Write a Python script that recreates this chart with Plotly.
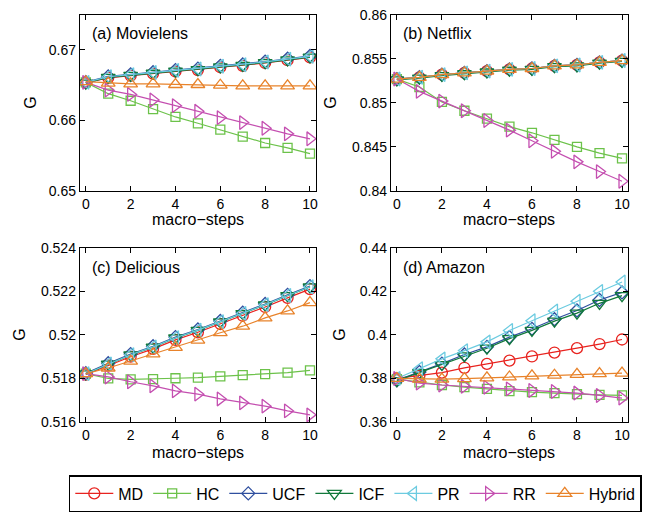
import plotly.graph_objects as go

steps = list(range(11))
methods = ["MD", "HC", "UCF", "ICF", "PR", "RR", "Hybrid"]

# (a) Movielens
ml_MD = [0.66535, 0.66605, 0.66635, 0.66665, 0.66695, 0.66715, 0.66755, 0.66775, 0.66815, 0.66855, 0.66895]
ml_HC = [0.6654, 0.6638, 0.6628, 0.6616, 0.6605, 0.6596, 0.6587, 0.6577, 0.6568, 0.6561, 0.6553]
ml_UCF = [0.66545, 0.66625, 0.66655, 0.66685, 0.66715, 0.66735, 0.66775, 0.66795, 0.66835, 0.66875, 0.66915]
ml_ICF = [0.6653, 0.6661, 0.6664, 0.6667, 0.6670, 0.6672, 0.6676, 0.6678, 0.6682, 0.6686, 0.6690]
ml_PR = [0.6654, 0.6662, 0.6665, 0.6668, 0.6671, 0.6673, 0.6677, 0.6679, 0.6683, 0.6687, 0.6691]
ml_RR = [0.6654, 0.6643, 0.6637, 0.6629, 0.6621, 0.6613, 0.6604, 0.6597, 0.6589, 0.6581, 0.6574]
ml_Hybrid = [0.6655, 0.6653, 0.6652, 0.6652, 0.6651, 0.6651, 0.6650, 0.6649, 0.6649, 0.6649, 0.6649]

# (b) Netflix
nf_MD = [0.8527, 0.8529, 0.8532, 0.8534, 0.8536, 0.8538, 0.8539, 0.8542, 0.8543, 0.8546, 0.8548]
nf_HC = [0.8527, 0.8518, 0.8501, 0.8491, 0.8482, 0.8473, 0.8466, 0.8458, 0.8450, 0.8443, 0.8437]
nf_UCF = [0.8527, 0.8529, 0.8532, 0.8534, 0.8536, 0.8538, 0.8539, 0.8542, 0.8543, 0.8546, 0.8548]
nf_ICF = [0.8526, 0.8528, 0.8531, 0.8533, 0.8535, 0.8537, 0.8538, 0.8541, 0.8542, 0.8545, 0.8547]
nf_PR = [0.8527, 0.8529, 0.8532, 0.8534, 0.8536, 0.8538, 0.8539, 0.8542, 0.8543, 0.8546, 0.8548]
nf_RR = [0.8527, 0.8513, 0.8502, 0.8491, 0.8480, 0.8469, 0.8457, 0.8445, 0.8433, 0.8422, 0.8411]
nf_Hybrid = [0.8527, 0.8529, 0.8532, 0.8534, 0.8536, 0.8538, 0.8539, 0.8542, 0.8543, 0.8546, 0.8548]

# (c) Delicious
de_MD = [0.51818, 0.51860, 0.51900, 0.51936, 0.51977, 0.52012, 0.52050, 0.52088, 0.52128, 0.52170, 0.52210]
de_HC = [0.51822, 0.51800, 0.51796, 0.51797, 0.51801, 0.51804, 0.51810, 0.51815, 0.51820, 0.51827, 0.51837]
de_UCF = [0.51824, 0.51870, 0.51912, 0.51948, 0.51990, 0.52025, 0.52064, 0.52102, 0.52142, 0.52184, 0.52224]
de_ICF = [0.51821, 0.51866, 0.51908, 0.51944, 0.51986, 0.52021, 0.52060, 0.52098, 0.52138, 0.52180, 0.52220]
de_PR = [0.51822, 0.51867, 0.51909, 0.51945, 0.51987, 0.52022, 0.52061, 0.52099, 0.52139, 0.52181, 0.52221]
de_RR = [0.51822, 0.51807, 0.51785, 0.51766, 0.51743, 0.51728, 0.51706, 0.51688, 0.51673, 0.51651, 0.51633]
de_Hybrid = [0.51822, 0.51848, 0.51880, 0.51913, 0.51943, 0.51976, 0.52010, 0.52040, 0.52078, 0.52110, 0.52148]

# (d) Amazon
am_MD = [0.3800, 0.3812, 0.3827, 0.3849, 0.3867, 0.3882, 0.3901, 0.3919, 0.3939, 0.3958, 0.3979]
am_HC = [0.3797, 0.3782, 0.3770, 0.3760, 0.3752, 0.3742, 0.3737, 0.3733, 0.3728, 0.3725, 0.3722]
am_UCF = [0.3792, 0.3830, 0.3868, 0.3910, 0.3945, 0.3990, 0.4028, 0.4072, 0.4112, 0.4160, 0.4195]
am_ICF = [0.3790, 0.3827, 0.3864, 0.3904, 0.3939, 0.3983, 0.4021, 0.4063, 0.4100, 0.4145, 0.4180]
am_PR = [0.3800, 0.3845, 0.3890, 0.3928, 0.3968, 0.4020, 0.4065, 0.4110, 0.4155, 0.4200, 0.4243]
am_RR = [0.3800, 0.3779, 0.3770, 0.3764, 0.3760, 0.3752, 0.3745, 0.3740, 0.3733, 0.3722, 0.3710]
am_Hybrid = [0.3800, 0.3797, 0.3797, 0.3799, 0.3803, 0.3807, 0.3812, 0.3815, 0.3819, 0.3822, 0.3825]

titles = ["(a) Movielens", "(b) Netflix", "(c) Delicious", "(d) Amazon"]
panels = [
    [ml_MD, ml_HC, ml_UCF, ml_ICF, ml_PR, ml_RR, ml_Hybrid],
    [nf_MD, nf_HC, nf_UCF, nf_ICF, nf_PR, nf_RR, nf_Hybrid],
    [de_MD, de_HC, de_UCF, de_ICF, de_PR, de_RR, de_Hybrid],
    [am_MD, am_HC, am_UCF, am_ICF, am_PR, am_RR, am_Hybrid],
]
y_ticks = [
    [0.65, 0.66, 0.67],
    [0.84, 0.845, 0.85, 0.855, 0.86],
    [0.516, 0.518, 0.52, 0.522, 0.524],
    [0.36, 0.38, 0.4, 0.42, 0.44],
]
y_ticktext = [
    ["0.65", "0.66", "0.67"],
    ["0.84", "0.845", "0.85", "0.855", "0.86"],
    ["0.516", "0.518", "0.52", "0.522", "0.524"],
    ["0.36", "0.38", "0.4", "0.42", "0.44"],
]
y_ranges = [[0.65, 0.675], [0.84, 0.86], [0.516, 0.524], [0.36, 0.44]]
x_ticks = [0, 2, 4, 6, 8, 10]

colors = {
    "MD": "#e8231f",
    "HC": "#6cc24a",
    "UCF": "#2f4f9f",
    "ICF": "#11793b",
    "PR": "#6ccbe0",
    "RR": "#c44fb0",
    "Hybrid": "#e8832b",
}
symbols = {
    "MD": "circle-open",
    "HC": "square-open",
    "UCF": "diamond-open",
    "ICF": "triangle-down-open",
    "PR": "triangle-left-open",
    "RR": "triangle-right-open",
    "Hybrid": "triangle-up-open",
}
sizes = {"MD": 11, "HC": 9, "UCF": 10, "ICF": 12, "PR": 12, "RR": 12, "Hybrid": 12}

W, H = 658, 512
# pixel boxes: (left, right, top, bottom)
boxes = [(80, 317, 7, 190), (392, 630, 7, 190), (80, 317, 249, 430), (392, 630, 249, 430)]
ylab_offset = [49, 60, 60, 51]
xlab_offset = [30, 30, 32, 32]

FONT = "Liberation Sans, Arial, Helvetica, sans-serif"
fig = go.Figure()
layout = dict(
    width=W, height=H,
    margin=dict(l=0, r=0, t=0, b=0),
    paper_bgcolor="white", plot_bgcolor="white",
    font=dict(family=FONT, size=14, color="black"),
    showlegend=True,
)
annotations = []
for i, (series, box) in enumerate(zip(panels, boxes)):
    n = "" if i == 0 else str(i + 1)
    xa, ya = "x" + n, "y" + n
    for m, vals in zip(methods, series):
        fig.add_trace(go.Scatter(
            x=steps, y=vals, mode="lines+markers", name=m,
            xaxis=xa, yaxis=ya, showlegend=(i == 0),
            line=dict(color=colors[m], width=1.2),
            marker=dict(symbol=symbols[m], size=sizes[m], color=colors[m],
                        line=dict(color=colors[m], width=1.3)),
        ))
    l, r, t, b = box
    common = dict(showline=True, linecolor="black", linewidth=1, mirror="ticks",
                  ticks="inside", ticklen=5, tickcolor="black", showgrid=False,
                  zeroline=False, tickfont=dict(size=14, family=FONT))
    layout["xaxis" + n] = dict(domain=[l / W, r / W], anchor=ya, range=[-0.27, 10.27],
                               tickvals=x_ticks, **common)
    layout["yaxis" + n] = dict(domain=[(H - b) / H, (H - t) / H], anchor=xa,
                               range=y_ranges[i], tickvals=y_ticks[i],
                               ticktext=y_ticktext[i], **common)
    # panel label
    annotations.append(dict(text=titles[i], xref="paper", yref="paper",
                            x=(l + (10 if i % 2 == 0 else 10)) / W, y=(H - (t + 20)) / H,
                            xanchor="left", yanchor="middle", showarrow=False,
                            font=dict(size=16, family=FONT)))
    # x title
    annotations.append(dict(text="macro\u2212steps", xref="paper", yref="paper",
                            x=(l + r) / 2 / W, y=(H - (b + xlab_offset[i])) / H,
                            xanchor="center", yanchor="middle", showarrow=False,
                            font=dict(size=16, family=FONT)))
    # y title
    annotations.append(dict(text="G", xref="paper", yref="paper",
                            x=(l - ylab_offset[i]) / W, y=(H - (t + b) / 2) / H,
                            xanchor="center", yanchor="middle", showarrow=False,
                            textangle=-90, font=dict(size=16, family=FONT)))

layout["annotations"] = annotations
layout["legend"] = dict(orientation="h", x=69 / W, xanchor="left", y=(H - 485) / H,
                        yanchor="top", bordercolor="black", borderwidth=1.5,
                        bgcolor="white", font=dict(size=16, family=FONT),
                        itemwidth=38, tracegroupgap=0)
fig.update_layout(**layout)
fig.write_html("out.html")
